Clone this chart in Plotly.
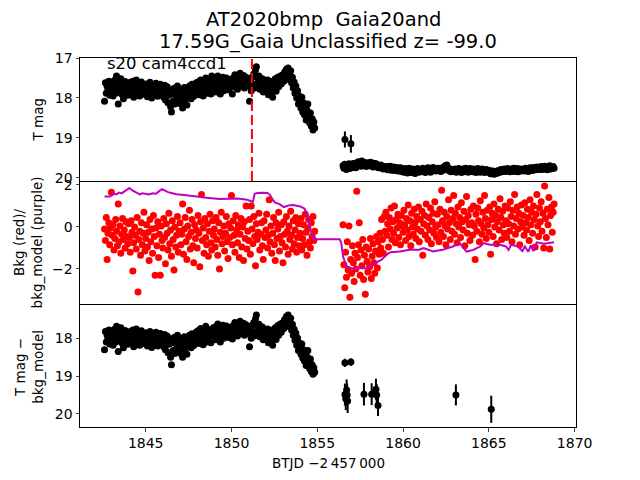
import plotly.graph_objects as go
from plotly.subplots import make_subplots

# sector 20 light curve, times are BTJD - 2457000
t1 = [
    1842.60, 1842.65, 1842.70, 1842.75, 1842.80, 1842.85, 1842.90, 1842.95,
    1843.00, 1843.05, 1843.10, 1843.15, 1843.20, 1843.25, 1843.30, 1843.35, 1843.40, 1843.45,
    1843.50, 1843.55, 1843.60, 1843.65, 1843.70, 1843.75, 1843.80, 1843.85, 1843.90, 1843.95,
    1844.00, 1844.05, 1844.10, 1844.15, 1844.20, 1844.25, 1844.30, 1844.35, 1844.40, 1844.45,
    1844.50, 1844.55, 1844.60, 1844.65, 1844.70, 1844.75, 1844.80, 1844.85, 1844.90, 1844.95,
    1845.00, 1845.05, 1845.10, 1845.15, 1845.20, 1845.25, 1845.30, 1845.35, 1845.40, 1845.45,
    1845.50, 1845.55, 1845.60, 1845.65, 1845.70, 1845.75, 1845.80, 1845.85, 1845.90, 1845.95,
    1846.00, 1846.05, 1846.10, 1846.15, 1846.20, 1846.25, 1846.30, 1846.35, 1846.40, 1846.45,
    1846.50, 1846.55, 1846.60, 1846.65, 1846.70, 1846.75, 1846.80, 1846.85, 1846.90, 1846.95,
    1847.00, 1847.05, 1847.10, 1847.15, 1847.20, 1847.25, 1847.30, 1847.35, 1847.40, 1847.45,
    1847.50, 1847.55, 1847.60, 1847.65, 1847.70, 1847.75, 1847.80, 1847.85, 1847.90, 1847.95,
    1848.00, 1848.05, 1848.10, 1848.15, 1848.20, 1848.25, 1848.30, 1848.35, 1848.40, 1848.45,
    1848.50, 1848.55, 1848.60, 1848.65, 1848.70, 1848.75, 1848.80, 1848.85, 1848.90, 1848.95,
    1849.00, 1849.05, 1849.10, 1849.15, 1849.20, 1849.25, 1849.30, 1849.35, 1849.40, 1849.45,
    1849.50, 1849.55, 1849.60, 1849.65, 1849.70, 1849.75, 1849.80, 1849.85, 1849.90, 1849.95,
    1850.00, 1850.05, 1850.10, 1850.15, 1850.20, 1850.25, 1850.30, 1850.35, 1850.40, 1850.45,
    1850.50, 1850.55, 1850.60, 1850.65, 1850.70, 1850.75, 1850.80, 1850.85, 1850.90, 1850.95,
    1851.00, 1851.05, 1851.10, 1851.15, 1851.20, 1851.25, 1851.30, 1851.35, 1851.40, 1851.45,
    1851.50, 1851.55, 1851.60, 1851.65, 1851.70, 1851.75, 1851.80, 1851.85, 1851.90, 1851.95,
    1852.00, 1852.05, 1852.10, 1852.15, 1852.20, 1852.25, 1852.30, 1852.35, 1852.40, 1852.45,
    1852.50, 1852.55, 1852.60, 1852.65, 1852.70, 1852.75, 1852.80, 1852.85, 1852.90, 1852.95,
    1853.00, 1853.05, 1853.10, 1853.15, 1853.20, 1853.25, 1853.30, 1853.35, 1853.40, 1853.45,
    1853.50, 1853.55, 1853.60, 1853.65, 1853.70, 1853.75, 1853.80, 1853.85, 1853.90, 1853.95,
    1854.00, 1854.05, 1854.10, 1854.15, 1854.20, 1854.25, 1854.30, 1854.35, 1854.40, 1854.45,
    1854.50, 1854.55, 1854.60, 1854.65, 1854.70, 1854.75, 1854.80, 1854.85,
]
t2 = [
    1856.50, 1856.55, 1856.60, 1856.65, 1856.70, 1856.75, 1856.80, 1856.85, 1856.90, 1856.95,
    1857.00, 1857.05, 1857.10, 1857.15, 1857.20, 1857.25, 1857.30, 1857.35, 1857.40, 1857.45,
    1857.50, 1857.55, 1857.60, 1857.65, 1857.70, 1857.75, 1857.80, 1857.85, 1857.90, 1857.95,
    1858.00, 1858.05, 1858.10, 1858.15, 1858.20, 1858.25, 1858.30, 1858.35, 1858.40, 1858.45,
    1858.50, 1858.55, 1858.60, 1858.65, 1858.70, 1858.75, 1858.80, 1858.85, 1858.90, 1858.95,
    1859.00, 1859.05, 1859.10, 1859.15, 1859.20, 1859.25, 1859.30, 1859.35, 1859.40, 1859.45,
    1859.50, 1859.55, 1859.60, 1859.65, 1859.70, 1859.75, 1859.80, 1859.85, 1859.90, 1859.95,
    1860.00, 1860.05, 1860.10, 1860.15, 1860.20, 1860.25, 1860.30, 1860.35, 1860.40, 1860.45,
    1860.50, 1860.55, 1860.60, 1860.65, 1860.70, 1860.75, 1860.80, 1860.85, 1860.90, 1860.95,
    1861.00, 1861.05, 1861.10, 1861.15, 1861.20, 1861.25, 1861.30, 1861.35, 1861.40, 1861.45,
    1861.50, 1861.55, 1861.60, 1861.65, 1861.70, 1861.75, 1861.80, 1861.85, 1861.90, 1861.95,
    1862.00, 1862.05, 1862.10, 1862.15, 1862.20, 1862.25, 1862.30, 1862.35, 1862.40, 1862.45,
    1862.50, 1862.55, 1862.60, 1862.65, 1862.70, 1862.75, 1862.80, 1862.85, 1862.90, 1862.95,
    1863.00, 1863.05, 1863.10, 1863.15, 1863.20, 1863.25, 1863.30, 1863.35, 1863.40, 1863.45,
    1863.50, 1863.55, 1863.60, 1863.65, 1863.70, 1863.75, 1863.80, 1863.85, 1863.90, 1863.95,
    1864.00, 1864.05, 1864.10, 1864.15, 1864.20, 1864.25, 1864.30, 1864.35, 1864.40, 1864.45,
    1864.50, 1864.55, 1864.60, 1864.65, 1864.70, 1864.75, 1864.80, 1864.85, 1864.90, 1864.95,
    1865.00, 1865.05, 1865.10, 1865.15, 1865.20, 1865.25, 1865.30, 1865.35, 1865.40, 1865.45,
    1865.50, 1865.55, 1865.60, 1865.65, 1865.70, 1865.75, 1865.80, 1865.85, 1865.90, 1865.95,
    1866.00, 1866.05, 1866.10, 1866.15, 1866.20, 1866.25, 1866.30, 1866.35, 1866.40, 1866.45,
    1866.50, 1866.55, 1866.60, 1866.65, 1866.70, 1866.75, 1866.80, 1866.85, 1866.90, 1866.95,
    1867.00, 1867.05, 1867.10, 1867.15, 1867.20, 1867.25, 1867.30, 1867.35, 1867.40, 1867.45,
    1867.50, 1867.55, 1867.60, 1867.65, 1867.70, 1867.75, 1867.80, 1867.85, 1867.90, 1867.95,
    1868.00, 1868.05, 1868.10, 1868.15, 1868.20, 1868.25, 1868.30, 1868.35, 1868.40, 1868.45,
    1868.50, 1868.55, 1868.60, 1868.65, 1868.70, 1868.75, 1868.80,
]

# T mag, orbit 1 and orbit 2
tmag1 = [
    18.08, 17.62, 17.88, 17.71, 17.80, 17.58, 17.93, 17.69,
    17.84, 17.60, 17.95, 17.72, 17.55, 17.88, 17.45, 17.79, 18.15, 17.63, 17.74, 17.52, 17.90, 17.68, 18.02, 17.77, 17.59, 17.85, 17.70, 17.93,
    17.70, 17.92, 17.61, 17.85, 17.76, 17.58, 17.98, 17.67, 17.81, 17.55, 17.89, 17.73, 17.64, 17.95, 17.79, 17.60, 17.86, 17.69, 17.91, 17.74,
    17.83, 17.65, 17.97, 17.72, 17.88, 17.61, 17.79, 18.00, 17.68, 17.85, 17.74, 17.93, 17.63, 17.81, 17.96, 17.70, 17.87, 17.66, 17.90, 17.77,
    17.75, 17.98, 17.68, 18.05, 17.86, 17.72, 18.12, 17.93, 17.80, 18.22, 18.35, 17.90, 18.08, 17.76, 18.15, 17.84, 18.02, 17.70, 17.95, 18.10,
    17.88, 18.15, 17.80, 18.25, 17.97, 17.74, 18.05, 17.86, 18.18, 17.78, 17.95, 17.70, 17.90, 18.02, 17.66, 17.84, 17.96, 17.72, 17.88, 17.62,
    17.80, 17.60, 17.92, 17.68, 17.55, 17.85, 17.73, 17.95, 17.62, 17.78, 17.50, 17.88, 17.66, 17.82, 17.58, 17.75, 17.90, 17.45, 17.70, 17.54,
    17.72, 17.52, 17.85, 17.60, 17.45, 17.78, 17.66, 17.90, 17.56, 17.70, 17.48, 17.82, 17.62, 17.75, 17.50, 17.68, 17.58, 17.80, 17.54, 17.65,
    17.62, 17.90, 17.50, 17.72, 17.42, 17.66, 17.55, 17.78, 17.46, 17.60, 17.38, 17.70, 17.52, 17.64, 17.44, 17.75, 17.57, 17.48, 17.68, 17.53,
    17.70, 18.08, 17.55, 17.82, 17.48, 17.66, 17.40, 17.75, 17.30, 17.22, 17.50, 17.62, 17.45, 17.78, 17.58, 17.68, 17.52, 17.85, 17.60, 17.72,
    17.64, 17.80, 17.55, 17.92, 17.70, 17.58, 17.86, 17.66, 17.98, 17.60, 17.75, 17.52, 17.83, 17.62, 17.48, 17.72, 17.56, 17.45, 17.65, 17.50,
    17.42, 17.58, 17.35, 17.50, 17.28, 17.44, 17.25, 17.38, 17.55, 17.32, 17.62, 17.48, 17.75, 17.60, 17.88, 17.70, 18.00, 17.82, 18.15, 17.95,
    18.05, 18.25, 17.98, 18.35, 18.12, 18.42, 18.20, 18.55, 18.30, 18.15, 18.48, 18.62, 18.38, 18.70, 18.52, 18.80, 18.60, 18.75,
]
tmag2 = [
    19.70, 19.76, 19.66, 19.74, 19.79, 19.68, 19.73, 19.65, 19.77, 19.71,
    19.69, 19.74, 19.64, 19.72, 19.67, 19.75, 19.62, 19.70, 19.60, 19.68, 19.63, 19.71, 19.58, 19.66, 19.61, 19.69, 19.64, 19.72, 19.62, 19.67,
    19.65, 19.70, 19.61, 19.68, 19.63, 19.73, 19.66, 19.70, 19.64, 19.72, 19.67, 19.75, 19.69, 19.73, 19.68, 19.76, 19.71, 19.78, 19.72, 19.75,
    19.77, 19.72, 19.80, 19.74, 19.78, 19.71, 19.81, 19.75, 19.79, 19.73, 19.82, 19.76, 19.80, 19.74, 19.83, 19.77, 19.81, 19.75, 19.84, 19.78,
    19.80, 19.86, 19.77, 19.83, 19.79, 19.88, 19.81, 19.76, 19.85, 19.80, 19.87, 19.78, 19.84, 19.81, 19.89, 19.79, 19.83, 19.77, 19.86, 19.82,
    19.79, 19.85, 19.81, 19.76, 19.84, 19.80, 19.87, 19.78, 19.83, 19.75, 19.82, 19.79, 19.86, 19.77, 19.81, 19.74, 19.80, 19.76, 19.83, 19.78,
    19.80, 19.76, 19.82, 19.78, 19.84, 19.79, 19.75, 19.81, 19.77, 19.70, 19.72, 19.68, 19.74, 19.79, 19.83, 19.78, 19.85, 19.80, 19.84, 19.79,
    19.82, 19.78, 19.86, 19.80, 19.84, 19.77, 19.83, 19.79, 19.87, 19.81, 19.78, 19.85, 19.80, 19.76, 19.83, 19.79, 19.86, 19.81, 19.77, 19.84,
    19.80, 19.85, 19.78, 19.83, 19.79, 19.87, 19.82, 19.77, 19.84, 19.80, 19.86, 19.81, 19.78, 19.84, 19.80, 19.87, 19.82, 19.79, 19.85, 19.81,
    19.86, 19.82, 19.90, 19.85, 19.88, 19.83, 19.91, 19.86, 19.84, 19.89, 19.85, 19.82, 19.87, 19.83, 19.79, 19.85, 19.81, 19.84, 19.78, 19.83,
    19.80, 19.84, 19.77, 19.82, 19.79, 19.85, 19.78, 19.83, 19.80, 19.76, 19.84, 19.79, 19.82, 19.77, 19.85, 19.80, 19.78, 19.83, 19.79, 19.81,
    19.78, 19.83, 19.80, 19.76, 19.82, 19.79, 19.84, 19.78, 19.75, 19.81, 19.77, 19.82, 19.74, 19.79, 19.76, 19.80, 19.73, 19.78, 19.75, 19.79,
    19.76, 19.72, 19.79, 19.74, 19.78, 19.71, 19.77, 19.75, 19.80, 19.73, 19.76, 19.70, 19.78, 19.74, 19.77, 19.72, 19.76,
]
# the two faint points with visible errors just after the gap
t_err = [1856.61, 1856.96]
tmag_err = [19.04, 19.15]
tmag_err_sig = [0.20, 0.22]

# background flux (red)
bkg1 = [
    -0.10, -0.65, 0.45, -1.55, -0.30, 0.20, -0.85, -0.05,
    1.65, -0.40, 0.10, -1.10, -0.55, 0.35, -0.20, -0.90, 1.10, -0.70, 0.05, -1.25, -0.35, 0.40, -0.60, -0.15, -1.00, 0.25, -0.45, -0.80,
    0.15, -0.50, -1.20, 0.30, -0.25, -2.10, -0.75, 0.00, -0.40, -1.05, 0.45, -3.10, -0.60, -0.20, -1.35, 0.20, -0.85, -0.30, 0.70, -1.15,
    -0.55, 0.10, -0.95, -0.25, -1.60, 0.35, -0.70, -0.10, -1.25, 0.55, -0.45, -2.30, -0.05, -0.90, 0.25, -1.45, -0.35, -2.30, 0.05, -0.65,
    -1.00, 0.40, -0.50, -1.75, 0.15, -0.30, -1.10, 0.65, -0.80, -0.15, -1.40, 0.30, -0.60, -2.05, 0.00, -0.95, -0.40, 0.50, -1.20, -0.20,
    0.20, -0.85, -0.35, 1.10, -1.30, -0.10, 0.45, -0.70, -1.55, 0.05, -0.45, 0.80, -1.05, -0.25, 0.35, -0.90, -1.70, 0.10, -0.55, -0.15,
    -1.00, 0.55, -0.30, -1.90, 0.25, 1.55, -0.65, -0.05, -1.25, 0.40, -0.50, -0.85, 0.15, -1.40, -0.20, 0.60, -0.75, -1.10, 0.30, -0.40,
    -0.10, -0.95, 0.45, -0.60, -1.35, 0.20, -2.00, -0.25, 0.70, -0.80, -0.45, 0.05, -1.15, -0.30, 0.50, -0.70, -1.50, 0.15, -0.50, -0.05,
    1.50, -0.85, 0.30, -0.40, -1.20, 0.55, -0.15, -0.75, 0.10, -1.45, -0.35, 0.40, -0.95, 0.00, -1.60, 0.25, -0.55, 1.00, -1.05, -0.20,
    -0.65, 0.35, -1.30, 1.00, -0.10, -0.80, 0.50, -0.45, -1.85, 0.15, -0.60, -0.25, 0.65, -1.10, -0.35, 0.20, -0.90, -1.55, 0.30, -0.50,
    -0.15, 0.60, -1.00, -0.40, 1.30, -0.70, 0.05, -1.25, -0.30, 0.45, -0.85, -1.60, 0.20, -0.55, -0.10, 0.70, -1.15, -0.45, 0.10, -0.75,
    -1.70, 0.25, -0.35, -0.95, 0.50, -0.20, -1.30, 0.05, -0.60, 0.75, -0.40, -1.05, 0.30, -0.80, -0.15, 0.45, -1.20, -0.50, 0.15, -0.90,
    -0.30, 0.40, -1.10, -0.55, 0.10, -0.85, 0.60, -0.25, -1.35, -0.05, 0.35, -0.70, -1.00, 0.20, -0.45, 0.50, -0.65, -0.20,
]
bkg2 = [
    0.10, -1.80, -2.90, -1.20, -2.40, -0.70, -2.05, 0.05, -3.35, -1.55,
    -2.20, -0.90, -1.70, -2.60, -1.25, -2.00, 1.70, -1.45, -0.85, 0.20, -2.30, -1.10, -1.85, -0.60, -2.50, -1.35, -3.20, -0.95, -1.65, -2.15,
    -1.05, -1.90, -0.55, -2.45, -1.40, -0.80, -1.70, -2.20, -1.15, -0.45, -1.95, -0.70, -1.30, -0.30, -1.00, 0.35, -0.60, -1.25, 0.50, -0.20,
    0.70, -0.40, 0.15, -0.95, 0.45, -0.10, 0.90, -0.60, 0.25, -0.30, 1.00, -0.75, 0.35, -0.05, 0.60, -0.50, 0.20, -0.85, 0.55, 0.05,
    -0.25, 0.80, 0.10, -0.65, 0.40, -0.15, 1.05, -0.45, 0.30, -0.90, 0.65, 0.00, -0.35, 0.85, 0.20, -0.55, 0.50, -0.10, 0.95, -0.70,
    0.35, -0.20, 0.75, -1.35, 0.15, 0.55, -0.40, 1.10, 0.05, -0.60, 0.45, -0.15, 0.90, -0.80, 0.25, 0.65, -0.30, 1.20, 0.00, -0.50,
    0.60, 0.10, -0.70, 0.85, -0.25, 1.75, 0.30, -0.45, 0.70, 0.05, -0.85, 0.50, -0.10, 1.30, 0.20, -0.60, 0.80, -0.20, 0.40, 1.50,
    -0.35, 0.65, 0.15, -0.75, 0.95, 0.00, 0.45, -0.50, 1.15, 0.25, -0.15, 0.75, -0.90, 0.35, 1.45, -0.30, 0.55, 0.10, -0.65, 0.85,
    0.20, -0.40, 1.00, 0.05, -1.55, 0.60, -0.20, 0.90, 0.30, -0.70, 1.25, 0.15, -0.35, 0.70, -0.05, 1.50, 0.40, -0.55, 0.80, 0.10,
    -0.25, 0.95, -1.30, 0.35, 0.65, -0.45, 1.10, 0.00, 0.55, -0.80, 0.25, 0.85, -0.15, 1.35, 0.45, -0.60, 0.75, 0.10, -0.30, 1.00,
    0.30, -0.50, 0.90, 0.15, -0.20, 1.20, 0.50, -0.70, 0.80, 0.05, 1.55, -0.35, 0.40, 0.95, -0.10, 0.65, -0.85, 0.25, 1.05, 0.00,
    0.55, -0.40, 1.15, 0.20, -0.15, 0.85, 0.45, -0.65, 1.30, 0.10, 0.70, -0.30, 1.00, 0.35, -0.95, 0.60, 1.55, 0.05, -0.45, 0.90,
    0.25, 1.20, -0.20, 0.65, -1.00, 1.95, 0.40, -0.50, 0.85, 0.10, 1.40, -1.05, 0.55, 0.95, -0.25, 0.70, 1.10,
]

# background model (purple)
t_model = [
    1842.60, 1842.90, 1843.05, 1843.15, 1843.30, 1843.45, 1843.60, 1843.75, 1843.95, 1844.05,
    1844.20, 1844.35, 1844.50, 1844.65, 1844.80, 1845.00, 1845.20, 1845.40, 1845.60, 1845.80,
    1845.95, 1846.10, 1846.30, 1846.50, 1846.80, 1847.10, 1847.40, 1847.80, 1848.10, 1848.40,
    1848.80, 1849.30, 1849.80, 1850.30, 1850.60, 1850.90, 1851.10, 1851.25, 1851.35, 1851.50,
    1851.80, 1852.10, 1852.25, 1852.40, 1852.55, 1852.80, 1853.05, 1853.20, 1853.40, 1853.60,
    1853.80, 1854.00, 1854.25, 1854.45, 1854.60, 1854.75, 1856.30, 1856.40, 1856.50, 1856.70,
    1857.10, 1857.40, 1857.80, 1858.10, 1858.40, 1858.75, 1858.95, 1859.15, 1859.30, 1859.80,
    1860.40, 1860.95, 1861.20, 1861.75, 1862.30, 1862.90, 1863.30, 1863.50, 1863.70, 1864.10,
    1864.50, 1864.70, 1865.05, 1865.65, 1866.00, 1866.15, 1866.30, 1866.70, 1866.95, 1867.10,
    1867.30, 1867.45, 1867.60, 1867.80, 1868.20, 1868.80,
]
bkg_model = [
    1.45, 1.45, 1.52, 1.58, 1.55, 1.64, 1.60, 1.70, 1.80, 1.86,
    1.75, 1.68, 1.62, 1.55, 1.60, 1.58, 1.55, 1.60, 1.58, 1.72,
    1.80, 1.74, 1.66, 1.62, 1.56, 1.54, 1.52, 1.46, 1.44, 1.40,
    1.38, 1.33, 1.35, 1.36, 1.33, 1.30, 1.24, 1.20, 1.58, 1.62,
    1.63, 1.62, 1.52, 1.30, 1.16, 1.09, 0.95, 1.00, 1.04, 1.05,
    1.02, 0.98, 0.88, 0.55, -0.10, -0.58, -0.58, -0.75, -1.40, -1.87,
    -2.00, -1.94, -1.98, -1.84, -1.72, -1.56, -1.40, -1.25, -1.20, -1.17,
    -1.09, -1.08, -1.01, -1.17, -1.09, -0.93, -0.77, -0.98, -1.17, -1.09,
    -0.93, -0.77, -0.85, -0.85, -0.93, -1.09, -0.85, -0.93, -1.15, -0.93,
    -1.18, -0.88, -1.15, -0.73, -0.80, -0.73,
]

# T mag - bkg_model
tsub1 = [
    18.30, 17.82, 18.10, 17.92, 18.02, 17.78, 18.15, 17.90,
    18.05, 17.80, 18.18, 17.93, 17.75, 18.10, 17.68, 18.00, 18.35, 17.84, 17.96, 17.72, 18.12, 17.88, 18.25, 17.98, 17.79, 18.07, 17.91, 18.16,
    17.92, 18.14, 17.82, 18.07, 17.98, 17.78, 18.22, 17.88, 18.03, 17.75, 18.12, 17.95, 17.85, 18.18, 18.01, 17.80, 18.09, 17.90, 18.14, 17.96,
    18.05, 17.85, 18.20, 17.93, 18.11, 17.82, 18.00, 18.24, 17.89, 18.08, 17.96, 18.16, 17.84, 18.03, 18.20, 17.91, 18.10, 17.87, 18.13, 17.99,
    17.97, 18.22, 17.90, 18.30, 18.08, 17.94, 18.38, 18.16, 18.02, 18.50, 18.70, 18.12, 18.32, 17.98, 18.40, 18.06, 18.26, 17.92, 18.18, 18.35,
    18.10, 18.40, 18.02, 18.50, 18.20, 17.96, 18.28, 18.08, 18.42, 18.00, 18.18, 17.92, 18.12, 18.25, 17.88, 18.06, 18.19, 17.93, 18.10, 17.83,
    18.00, 17.80, 18.14, 17.88, 17.74, 18.06, 17.93, 18.17, 17.82, 17.99, 17.68, 18.10, 17.86, 18.03, 17.77, 17.95, 18.12, 17.83, 17.90, 17.72,
    17.90, 17.70, 18.04, 17.78, 17.62, 17.97, 17.84, 18.10, 17.74, 17.88, 17.65, 18.00, 17.80, 17.93, 17.67, 17.86, 17.76, 17.98, 17.72, 17.83,
    17.78, 18.02, 17.66, 17.88, 17.58, 17.82, 17.71, 17.94, 17.62, 17.76, 17.55, 17.86, 17.68, 17.80, 17.60, 17.92, 17.73, 17.64, 17.84, 17.69,
    17.88, 18.22, 17.72, 18.00, 17.66, 17.84, 17.58, 17.93, 17.48, 17.38, 17.68, 17.80, 17.63, 17.96, 17.76, 17.86, 17.70, 18.04, 17.78, 17.90,
    17.84, 18.00, 17.75, 18.12, 17.90, 17.78, 18.06, 17.86, 18.18, 17.80, 17.95, 17.72, 18.03, 17.82, 17.66, 17.92, 17.74, 17.62, 17.84, 17.68,
    17.58, 17.74, 17.50, 17.66, 17.42, 17.60, 17.38, 17.52, 17.70, 17.47, 17.78, 17.63, 17.92, 17.76, 18.05, 17.86, 18.18, 17.99, 18.32, 18.12,
    18.22, 18.42, 18.15, 18.52, 18.30, 18.60, 18.38, 18.72, 18.48, 18.32, 18.66, 18.80, 18.55, 18.88, 18.70, 18.95, 18.78, 18.90,
]
t_sub2 = [1856.61, 1856.96, 1856.61, 1856.66, 1856.71, 1856.74, 1856.77, 1857.72, 1858.17, 1858.42, 1858.46, 1858.54, 1863.08, 1865.14]
tsub2 = [18.65, 18.63, 19.49, 19.60, 19.37, 19.50, 19.66, 19.48, 19.48, 19.35, 19.50, 19.78, 19.50, 19.88]
tsub2_sig = [0.11, 0.10, 0.29, 0.30, 0.28, 0.30, 0.32, 0.30, 0.29, 0.28, 0.29, 0.28, 0.28, 0.36]

t_peak = 1851.19

assert len(t1) == len(tmag1) == len(bkg1) == len(tsub1)
assert len(t2) == len(tmag2) == len(bkg2)
assert len(t_model) == len(bkg_model)

FONT = "DejaVu Sans"

fig = make_subplots(rows=3, cols=1, shared_xaxes=True, vertical_spacing=0)

dot = dict(color="black", size=7)
fig.add_trace(go.Scatter(x=t1, y=tmag1, mode="markers", marker=dot), row=1, col=1)
fig.add_trace(go.Scatter(x=t2, y=tmag2, mode="markers", marker=dot), row=1, col=1)
fig.add_trace(go.Scatter(x=t_err, y=tmag_err, mode="markers", marker=dot,
                         error_y=dict(type="data", array=tmag_err_sig, color="black",
                                      thickness=2, width=0)), row=1, col=1)

red = dict(color="#ff0000", size=7)
fig.add_trace(go.Scatter(x=t1, y=bkg1, mode="markers", marker=red), row=2, col=1)
fig.add_trace(go.Scatter(x=t2, y=bkg2, mode="markers", marker=red), row=2, col=1)
fig.add_trace(go.Scatter(x=t_model, y=bkg_model, mode="lines",
                         line=dict(color="#bf00bf", width=2)), row=2, col=1)

fig.add_trace(go.Scatter(x=t1, y=tsub1, mode="markers", marker=dot), row=3, col=1)
fig.add_trace(go.Scatter(x=t_sub2, y=tsub2, mode="markers", marker=dot,
                         error_y=dict(type="data", array=tsub2_sig, color="black",
                                      thickness=2, width=0)), row=3, col=1)

fig.add_shape(type="line", xref="x", yref="y domain", x0=t_peak, x1=t_peak, y0=0, y1=1,
              line=dict(color="#ff0000", width=2, dash="10px,4px"))

frame = dict(showline=True, linecolor="black", linewidth=1,
             showgrid=False, zeroline=False)
tick_font = dict(family=FONT, size=14, color="black")

# only the top panel mirrors its x line, so the shared edges are drawn once
for i in (1, 2, 3):
    fig.update_xaxes(range=[1841.17, 1870.08], mirror=(i == 1), row=i, col=1, **frame)
fig.update_xaxes(showticklabels=False, ticks="", row=1, col=1)
fig.update_xaxes(showticklabels=False, ticks="", row=2, col=1)
fig.update_xaxes(tickvals=[1845, 1850, 1855, 1860, 1865, 1870], tickformat="d",
                 ticks="outside", ticklen=3.5, tickfont=tick_font, row=3, col=1)

fig.update_yaxes(range=[20.08, 17.0], tickvals=[17, 18, 19, 20], row=1, col=1)
fig.update_yaxes(range=[-3.67, 2.19], tickvals=[-2, 0, 2], row=2, col=1)
fig.update_yaxes(range=[20.35, 17.09], tickvals=[18, 19, 20], row=3, col=1)
fig.update_yaxes(ticks="outside", ticklen=3.5, tickfont=tick_font, mirror=True, **frame)

lab = dict(family=FONT, size=13.5, color="black")
big = dict(family=FONT, size=19.5, color="black")
annotations = [
    dict(text="AT2020bmp  Gaia20and", xref="paper", yref="paper", x=0.49, y=1.103,
         xanchor="center", yanchor="middle", showarrow=False, font=big),
    dict(text="17.59G_Gaia Unclassified z= -99.0", xref="paper", yref="paper",
         x=0.5, y=1.044, xanchor="center", yanchor="middle", showarrow=False, font=big),
    dict(text="s20 cam4ccd1", xref="paper", yref="paper", x=0.05, y=0.984,
         xanchor="left", yanchor="middle", showarrow=False,
         font=dict(family=FONT, size=16.5, color="black")),
    dict(text="T mag", xref="paper", yref="paper", x=-0.085, y=0.833,
         xanchor="center", yanchor="middle", textangle=-90, showarrow=False, font=lab),
    dict(text="Bkg (red)/<br>bkg_model (purple)", xref="paper", yref="paper",
         x=-0.105, y=0.5, xanchor="center", yanchor="middle",
         textangle=-90, showarrow=False, font=lab),
    dict(text="T mag \u2212<br>bkg_model", xref="paper", yref="paper",
         x=-0.103, y=0.163, xanchor="center", yanchor="middle",
         textangle=-90, showarrow=False, font=lab),
    dict(text="BTJD \u22122\u2009457\u2009000", xref="paper", yref="paper",
         x=0.5, y=-0.098, xanchor="center", yanchor="middle", showarrow=False, font=lab),
]

fig.update_layout(width=640, height=480, showlegend=False,
                  margin=dict(l=80, r=64, t=58, b=53),
                  paper_bgcolor="white", plot_bgcolor="white",
                  font=dict(family=FONT, color="black"),
                  annotations=annotations)

fig.write_html("out.html", config={"displayModeBar": False},
               post_script="document.body.style.margin='0';")
